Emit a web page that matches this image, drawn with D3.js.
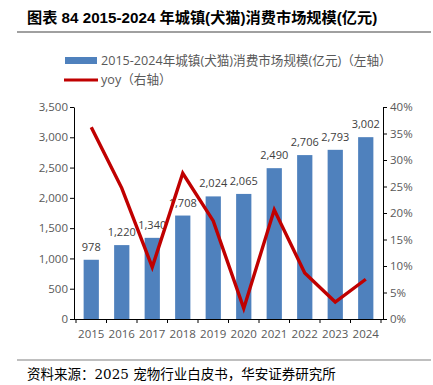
<!DOCTYPE html>
<html>
<head>
<meta charset="utf-8">
<style>
  body { margin: 0; background: #fff; }
  svg { display: block; }
  .axis text { font-family: "Open Sans", "Noto Sans CJK SC", sans-serif; font-size: 11.5px; fill: #595959; }
  .axis path, .axis line { stroke: #000; }
</style>
</head>
<body>
<svg id="chart"></svg>
<script src="https://d3js.org/d3.v7.min.js"></script>
<script>
var years = ["2015","2016","2017","2018","2019","2020","2021","2022","2023","2024"];
var market = [978, 1220, 1340, 1708, 2024, 2065, 2490, 2706, 2793, 3002];
var yoy = [36.2, 24.7, 9.8, 27.5, 18.5, 2.0, 20.6, 8.7, 3.2, 7.5];
var leftTicks = [0, 500, 1000, 1500, 2000, 2500, 3000, 3500];
var rightTicks = [0, 5, 10, 15, 20, 25, 30, 35, 40];

var W = 433, H = 385;
var svg = d3.select("#chart").attr("width", W).attr("height", H);

var cjk = "\"Liberation Sans\", Arial, \"Noto Sans CJK SC\", sans-serif";

// title
svg.append("text")
  .attr("x", 27).attr("y", 23)
  .style("font-family", cjk).style("font-weight", "bold").style("font-size", "15.2px")
  .attr("fill", "#000")
  .text("图表 84 2015-2024 年城镇(犬猫)消费市场规模(亿元)");
svg.append("line").attr("x1", 17).attr("x2", 431).attr("y1", 32).attr("y2", 32)
  .attr("stroke", "#808080").attr("stroke-width", 1.5);

// legend
var lg = svg.append("g").style("font-family", "\"Open Sans\", \"Noto Sans CJK SC\", sans-serif")
  .style("font-size", "12.6px").attr("fill", "#595959");
lg.append("rect").attr("x", 65).attr("y", 57).attr("width", 32).attr("height", 7).attr("fill", "#4f81bd");
lg.append("text").attr("x", 101).attr("y", 65).text("2015-2024年城镇(犬猫)消费市场规模(亿元)（左轴）");
lg.append("line").attr("x1", 64).attr("x2", 98).attr("y1", 80).attr("y2", 80)
  .attr("stroke", "#c00000").attr("stroke-width", 3);
lg.append("text").attr("x", 101).attr("y", 84).text("yoy（右轴）");

// scales
var x = d3.scaleBand().domain(years).range([76, 381]).paddingInner(0.5).paddingOuter(0.25);
var yL = d3.scaleLinear().domain([0, 3500]).range([319, 107]);
var yR = d3.scaleLinear().domain([0, 40]).range([319, 107]);

// axes
svg.append("g").attr("class", "axis").attr("transform", "translate(74,0)")
  .call(d3.axisLeft(yL).tickValues(leftTicks).tickSize(4).tickSizeOuter(0).tickFormat(d3.format(",")))
  .call(g => g.selectAll("text").attr("x", -6));
svg.append("g").attr("class", "axis").attr("transform", "translate(383,0)")
  .call(d3.axisRight(yR).tickValues(rightTicks).tickSize(4).tickSizeOuter(0).tickFormat(d => d + "%"))
  .call(g => g.selectAll("text").attr("x", 7));
var xAxis = svg.append("g").attr("class", "axis").attr("transform", "translate(0,319)")
  .call(d3.axisBottom(x).tickSize(0).tickSizeOuter(0));
xAxis.select(".domain").attr("d", "M74,0.5H383");
xAxis.selectAll("text").attr("y", 11);
// x ticks between categories
var step = x.step();
xAxis.selectAll(".sep").data(d3.range(years.length + 1)).enter().append("line")
  .attr("x1", i => x(years[0]) - (step - x.bandwidth()) / 2 + i * step)
  .attr("x2", i => x(years[0]) - (step - x.bandwidth()) / 2 + i * step)
  .attr("y1", 0).attr("y2", 4).attr("stroke", "#000");

// bars
svg.append("g").selectAll("rect").data(market).enter().append("rect")
  .attr("x", (d, i) => x(years[i]))
  .attr("width", x.bandwidth())
  .attr("y", d => yL(d))
  .attr("height", d => yL(0) - yL(d))
  .attr("fill", "#4f81bd");

svg.append("g").selectAll("text").data(market).enter().append("text")
  .attr("x", (d, i) => x(years[i]) + x.bandwidth() / 2)
  .attr("y", d => yL(d) - 9)
  .attr("text-anchor", "middle")
  .style("font-family", "\"Open Sans\", sans-serif").style("font-size", "11px")
  .attr("fill", "#404040")
  .text(d => d3.format(",")(d));

// yoy line
var line = d3.line()
  .x((d, i) => x(years[i]) + x.bandwidth() / 2)
  .y(d => yR(d));
svg.append("path").datum(yoy).attr("d", line)
  .attr("fill", "none").attr("stroke", "#c00000").attr("stroke-width", 3.4)
  .attr("stroke-linejoin", "miter");

// source
svg.append("line").attr("x1", 17).attr("x2", 431).attr("y1", 360).attr("y2", 360)
  .attr("stroke", "#808080").attr("stroke-width", 1.2);
svg.append("text").attr("x", 27).attr("y", 379)
  .style("font-family", "\"DejaVu Serif\", \"Noto Sans CJK SC\", serif").style("font-size", "13.5px")
  .attr("fill", "#000")
  .text("资料来源：2025 宠物行业白皮书，华安证券研究所");
</script>
</body>
</html>
